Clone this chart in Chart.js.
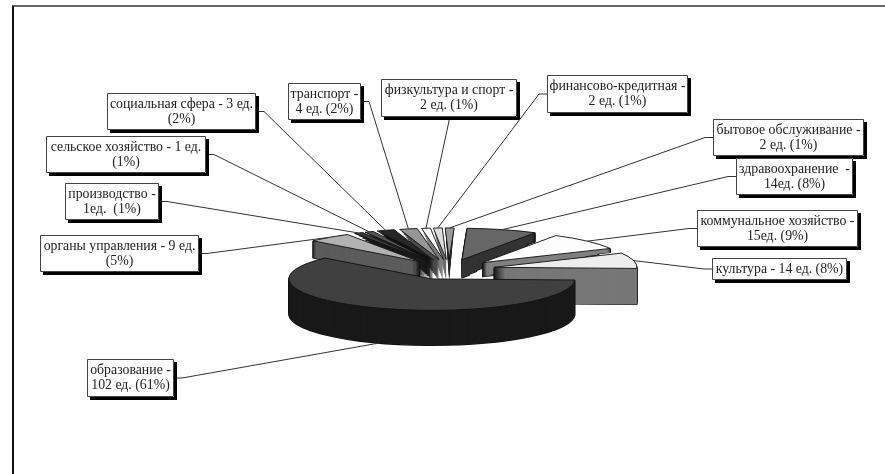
<!DOCTYPE html>
<html>
<head>
<meta charset="utf-8">
<title>Структура</title>
<script src="https://cdn.jsdelivr.net/npm/chart.js@4"></script>
<style>
	html, body { margin: 0; padding: 0; background: #fff; }
	#wrap { position: relative; width: 885px; height: 474px; }
</style>
</head>
<body>
<div id="wrap"><canvas id="myChart"></canvas></div>
<script>
// data, clockwise from the east edge of the pie
const categories = ["образование", "органы управления", "производство", "сельское хозяйство", "социальная сфера", "транспорт", "физкультура и спорт", "финансово-кредитная", "бытовое обслуживание", "здравоохранение", "коммунальное хозяйство", "культура"];
const percents = [61, 5, 1, 1, 2, 2, 1, 1, 1, 8, 9, 8];
const labelLines = [
	["образование -", "102 ед. (61%)"],
	["органы управления - 9 ед.", "(5%)"],
	["производство -", "1ед.  (1%)"],
	["сельское хозяйство - 1 ед.", "(1%)"],
	["социальная сфера - 3 ед.", "(2%)"],
	["транспорт -", "4 ед. (2%)"],
	["физкультура и спорт -", "2 ед. (1%)"],
	["финансово-кредитная -", "2 ед. (1%)"],
	["бытовое обслуживание -", "2 ед. (1%)"],
	["здравоохранение  -", "14ед. (8%)"],
	["коммунальное хозяйство -", "15ед. (9%)"],
	["культура - 14 ед. (8%)"],
];

// styles
const topColors = ["#404040", "#b2b2b2", "#3a3a3a", "#555555", "#262626", "#969696", "#fbfbfb", "#dddddd", "#9a9a9a", "#666666", "#fdfdfd", "#eeeeee"];
const sideColors = ["#191919", "#5c5c5c", "#1a1a1a", "#2a2a2a", "#111111", "#4a4a4a", "#7c7c7c", "#6e6e6e", "#262626", "#333333", "#808080", "#777777"];
// wall height at the slice tip and at its rim, the far slices taper
const tipDepths = [35, 17, 22, 22, 22, 22, 22, 22, 22, 19, 15, 36];
const rimDepths = [35, 17, 0, 0, 0, 0, 0, 0, 0, 9, 4, 36];

// label boxes: x, y, w, h
const boxes = [
	[87, 359, 87, 38],
	[40, 235, 159, 37],
	[65, 183, 94, 37],
	[46, 136, 160, 37],
	[107, 93, 149, 37],
	[288, 83, 73, 37],
	[381, 79, 136, 38],
	[547, 75, 141, 38],
	[713, 119, 151, 37],
	[736, 158, 117, 37],
	[697, 210, 161, 37],
	[712, 258, 135, 22],
];

const SQUASH = 0.22;
const EXPLODE = 46;
// back slices first, the big one last
const drawOrder = [8, 7, 6, 5, 4, 3, 2, 1, 9, 10, 11, 0];

function shiftOf(arc) {
	const mid = (arc.startAngle + arc.endAngle) / 2;
	return { x: Math.cos(mid) * EXPLODE, y: Math.sin(mid) * EXPLODE };
}

const pie3d = {
	id: "pie3d",
	beforeDatasetsDraw(chart) {
		const ctx = chart.ctx;
		const arcs = chart.getDatasetMeta(0).data;
		const cy = (chart.chartArea.top + chart.chartArea.bottom) / 2;

		const squash = (arc, dy) => {
			const s = shiftOf(arc);
			ctx.translate(0, cy + dy);
			ctx.scale(1, SQUASH);
			ctx.translate(0, -cy);
			ctx.translate(s.x, s.y);
		};

		// radius of the wall layer at height d, shrinks below the rim depth
		const layerRadius = (arc, i, d) => {
			if (d <= rimDepths[i]) return arc.outerRadius;
			return arc.outerRadius * (1 - (d - rimDepths[i]) / (tipDepths[i] - rimDepths[i]));
		};

		// arc.draw does the fill, the outline is traced here so the squash does not thin it.
		// the slice is moved here as well, the arc's own offset option also narrows thin slices
		const paint = (arc, color, dy, radius) => {
			const flat = Object.create(arc);
			flat.options = Object.assign({}, arc.options, { backgroundColor: color, borderWidth: 0, offset: 0 });
			flat.outerRadius = radius;
			ctx.save();
			squash(arc, dy);
			flat.draw(ctx);
			ctx.restore();
		};
		const outline = (arc, dy, radius, width) => {
			ctx.save();
			squash(arc, dy);
			ctx.beginPath();
			ctx.moveTo(arc.x, arc.y);
			ctx.arc(arc.x, arc.y, radius, arc.startAngle, arc.endAngle);
			ctx.closePath();
			ctx.restore();
			ctx.lineWidth = width;
			ctx.strokeStyle = "#111";
			ctx.lineJoin = "round";
			ctx.stroke();
		};

		for (const i of drawOrder) {
			const arc = arcs[i];
			const narrow = rimDepths[i] === 0;
			// all strokes first so only the silhouette stays dark, narrow slices would turn to hairlines
			if (!narrow) {
				for (let d = tipDepths[i]; d > 0; d--) outline(arc, d, layerRadius(arc, i, d), 1.4);
			}
			for (let d = tipDepths[i]; d > 0; d--) paint(arc, sideColors[i], d, layerRadius(arc, i, d));
			paint(arc, topColors[i], 0, arc.outerRadius);
			outline(arc, 0, arc.outerRadius, 0.9);
		}
		return false;
	},
	afterDraw(chart) {
		const ctx = chart.ctx;
		const arcs = chart.getDatasetMeta(0).data;
		const cy = (chart.chartArea.top + chart.chartArea.bottom) / 2;

		// frame, only top and left reach the picture
		ctx.fillStyle = "#666";
		ctx.fillRect(12, 5, 873, 2);
		ctx.fillStyle = "#111";
		ctx.fillRect(12, 6, 2, 468);

		ctx.font = "13.8px 'Liberation Serif'";
		ctx.textAlign = "center";
		ctx.textBaseline = "middle";

		arcs.forEach((arc, i) => {
			const [x, y, w, h] = boxes[i];
			const s = shiftOf(arc);
			const mid = (arc.startAngle + arc.endAngle) / 2;
			const ax = arc.x + s.x + Math.cos(mid) * arc.outerRadius;
			let ay = cy + (s.y + Math.sin(mid) * arc.outerRadius) * SQUASH;
			if (Math.sin(mid) > 0) ay += tipDepths[i];

			// leader, out of the box side that faces the slice
			ctx.strokeStyle = "#333";
			ctx.lineWidth = 1;
			ctx.beginPath();
			if (ax > x && ax < x + w) {
				ctx.moveTo(x + w / 2, y + h);
				ctx.lineTo(x + w / 2, y + h + 4);
			} else {
				const toLeft = x + w / 2 > ax;
				const sx = toLeft ? x : x + w;
				ctx.moveTo(sx, y + h / 2);
				ctx.lineTo(sx + (toLeft ? -8 : 8), y + h / 2);
			}
			ctx.lineTo(ax, ay);
			ctx.stroke();

			// box with hard shadow
			ctx.fillStyle = "#000";
			ctx.fillRect(x + 3, y + 3, w, h);
			ctx.fillStyle = "#fff";
			ctx.fillRect(x, y, w, h);
			ctx.strokeStyle = "#444";
			ctx.strokeRect(x + 0.5, y + 0.5, w - 1, h - 1);

			ctx.fillStyle = "#222";
			const lines = labelLines[i];
			lines.forEach((line, n) => {
				ctx.fillText(line, x + w / 2, y + h / 2 + (n - (lines.length - 1) / 2) * 15);
			});
		});
	},
};

const ctx = document.getElementById("myChart").getContext("2d");
const chart = new Chart(ctx, {
	type: "pie",
	data: {
		labels: categories,
		datasets: [
			{
				data: percents,
				backgroundColor: topColors,
				borderWidth: 0,
				clip: false,
			},
		],
	},
	plugins: [pie3d],
	options: {
		responsive: true,
		maintainAspectRatio: false,
		animation: false,
		rotation: 92,
		radius: 143,
		layout: { padding: { top: 65, left: 13 } },
		plugins: { legend: { display: false }, tooltip: { enabled: false } },
	},
});
</script>
</body>
</html>
